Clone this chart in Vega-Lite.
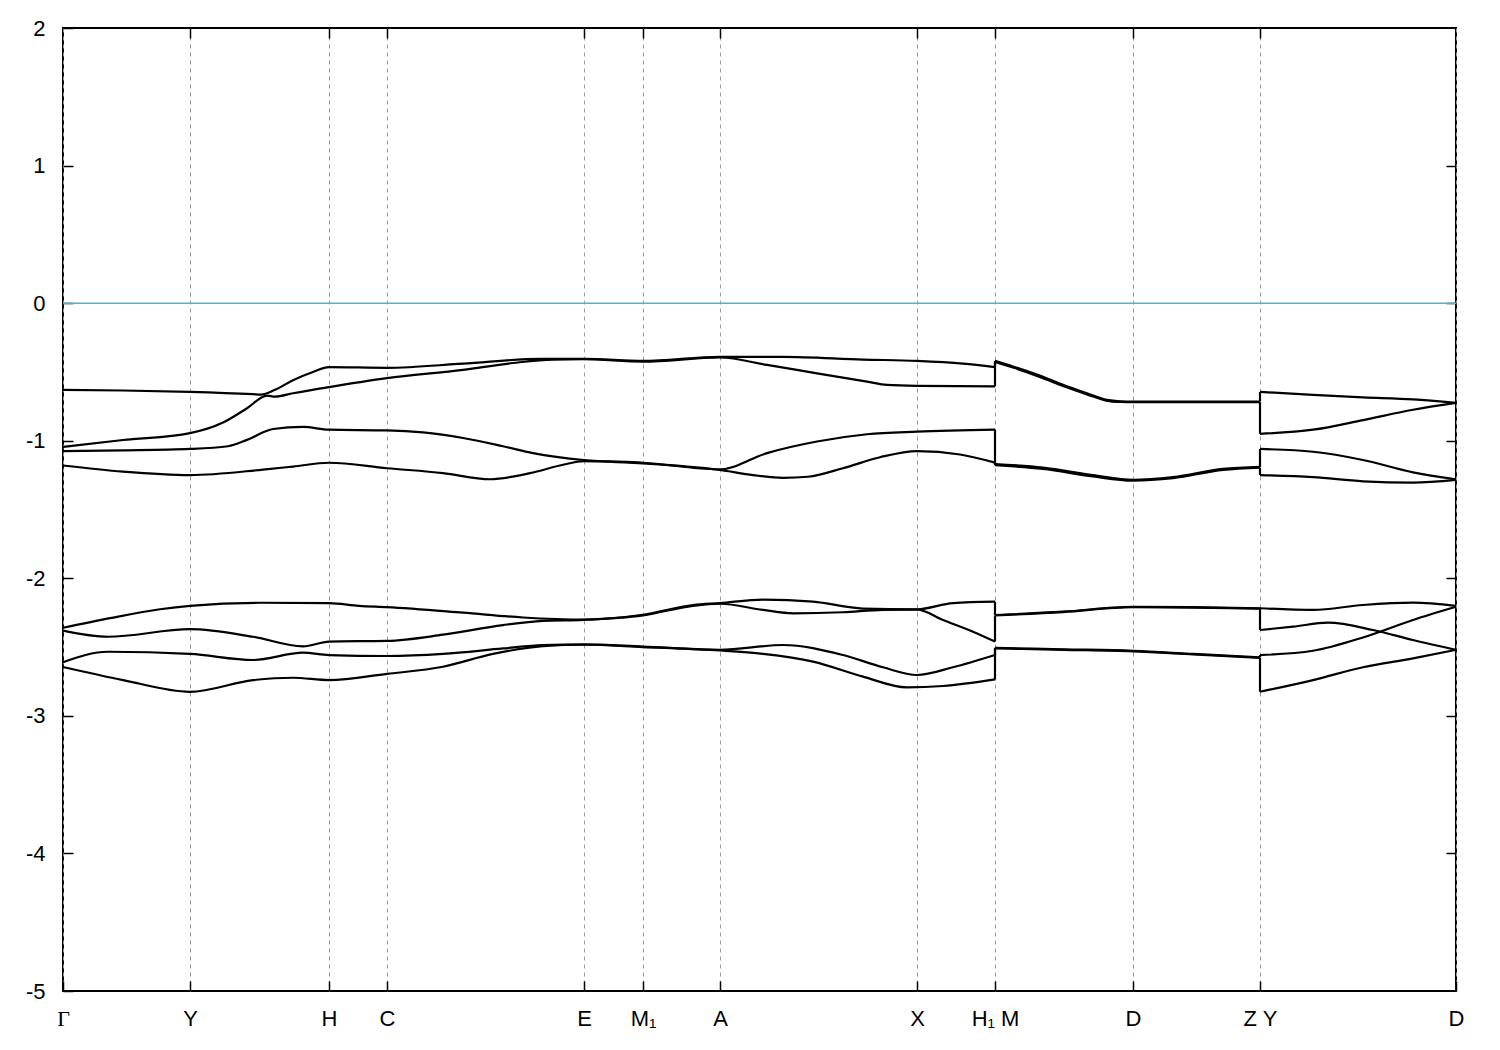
{
  "$schema": "https://vega.github.io/schema/vega-lite/v6.json",
  "width": 1393,
  "height": 963,
  "autosize": "none",
  "padding": {"left": 63, "top": 28, "right": 44, "bottom": 59},
  "background": "white",
  "config": {
    "view": {"stroke": "black", "strokeWidth": 2},
    "axis": {"labelFont": "Liberation Sans", "labelFontSize": 22, "labelColor": "black", "tickColor": "black", "tickWidth": 1.5, "domain": false, "title": null}
  },
  "datasets": {
    "bands": [
      {"b":"U1","s":"A","x":0,"e":-0.63},{"b":"U1","s":"A","x":60,"e":-0.635},{"b":"U1","s":"A","x":127,"e":-0.645},{"b":"U1","s":"A","x":190,"e":-0.662},{"b":"U1","s":"A","x":198,"e":-0.665},{"b":"U1","s":"A","x":212,"e":-0.63},{"b":"U1","s":"A","x":230,"e":-0.56},{"b":"U1","s":"A","x":250,"e":-0.5},{"b":"U1","s":"A","x":266,"e":-0.465},{"b":"U1","s":"A","x":324,"e":-0.47},{"b":"U1","s":"A","x":400,"e":-0.44},{"b":"U1","s":"A","x":477,"e":-0.405},{"b":"U1","s":"A","x":521,"e":-0.405},{"b":"U1","s":"A","x":580,"e":-0.42},{"b":"U1","s":"A","x":657,"e":-0.39},{"b":"U1","s":"A","x":720,"e":-0.39},{"b":"U1","s":"A","x":800,"e":-0.41},{"b":"U1","s":"A","x":854,"e":-0.42},{"b":"U1","s":"A","x":900,"e":-0.44},{"b":"U1","s":"A","x":932,"e":-0.465},
      {"b":"U1","s":"B","x":932,"e":-0.42},{"b":"U1","s":"B","x":950,"e":-0.46},{"b":"U1","s":"B","x":980,"e":-0.535},{"b":"U1","s":"B","x":1000,"e":-0.594},{"b":"U1","s":"B","x":1024,"e":-0.655},{"b":"U1","s":"B","x":1044,"e":-0.703},{"b":"U1","s":"B","x":1057,"e":-0.713},{"b":"U1","s":"B","x":1070,"e":-0.715},{"b":"U1","s":"B","x":1130,"e":-0.715},{"b":"U1","s":"B","x":1197,"e":-0.715},
      {"b":"U1","s":"C","x":1197,"e":-0.645},{"b":"U1","s":"C","x":1250,"e":-0.667},{"b":"U1","s":"C","x":1300,"e":-0.685},{"b":"U1","s":"C","x":1350,"e":-0.7},{"b":"U1","s":"C","x":1393,"e":-0.725},
      {"b":"U2","s":"A","x":0,"e":-1.045},{"b":"U2","s":"A","x":60,"e":-0.995},{"b":"U2","s":"A","x":127,"e":-0.945},{"b":"U2","s":"A","x":160,"e":-0.868},{"b":"U2","s":"A","x":184,"e":-0.764},{"b":"U2","s":"A","x":204,"e":-0.672},{"b":"U2","s":"A","x":212,"e":-0.68},{"b":"U2","s":"A","x":230,"e":-0.655},{"b":"U2","s":"A","x":266,"e":-0.61},{"b":"U2","s":"A","x":324,"e":-0.545},{"b":"U2","s":"A","x":400,"e":-0.485},{"b":"U2","s":"A","x":450,"e":-0.435},{"b":"U2","s":"A","x":490,"e":-0.41},{"b":"U2","s":"A","x":521,"e":-0.408},{"b":"U2","s":"A","x":580,"e":-0.425},{"b":"U2","s":"A","x":657,"e":-0.395},{"b":"U2","s":"A","x":704,"e":-0.449},{"b":"U2","s":"A","x":754,"e":-0.51},{"b":"U2","s":"A","x":804,"e":-0.57},{"b":"U2","s":"A","x":824,"e":-0.594},{"b":"U2","s":"A","x":854,"e":-0.601},{"b":"U2","s":"A","x":932,"e":-0.605},
      {"b":"U2","s":"B","x":932,"e":-0.428},{"b":"U2","s":"B","x":950,"e":-0.468},{"b":"U2","s":"B","x":980,"e":-0.545},{"b":"U2","s":"B","x":1000,"e":-0.602},{"b":"U2","s":"B","x":1024,"e":-0.663},{"b":"U2","s":"B","x":1044,"e":-0.71},{"b":"U2","s":"B","x":1057,"e":-0.718},{"b":"U2","s":"B","x":1070,"e":-0.72},{"b":"U2","s":"B","x":1130,"e":-0.72},{"b":"U2","s":"B","x":1197,"e":-0.72},
      {"b":"U2","s":"C","x":1197,"e":-0.95},{"b":"U2","s":"C","x":1250,"e":-0.92},{"b":"U2","s":"C","x":1300,"e":-0.85},{"b":"U2","s":"C","x":1350,"e":-0.775},{"b":"U2","s":"C","x":1393,"e":-0.725},
      {"b":"U3","s":"A","x":0,"e":-1.075},{"b":"U3","s":"A","x":60,"e":-1.07},{"b":"U3","s":"A","x":127,"e":-1.06},{"b":"U3","s":"A","x":165,"e":-1.04},{"b":"U3","s":"A","x":184,"e":-0.994},{"b":"U3","s":"A","x":210,"e":-0.915},{"b":"U3","s":"A","x":240,"e":-0.9},{"b":"U3","s":"A","x":266,"e":-0.92},{"b":"U3","s":"A","x":324,"e":-0.925},{"b":"U3","s":"A","x":360,"e":-0.94},{"b":"U3","s":"A","x":400,"e":-0.98},{"b":"U3","s":"A","x":440,"e":-1.04},{"b":"U3","s":"A","x":470,"e":-1.09},{"b":"U3","s":"A","x":521,"e":-1.14},{"b":"U3","s":"A","x":580,"e":-1.16},{"b":"U3","s":"A","x":657,"e":-1.208},{"b":"U3","s":"A","x":704,"e":-1.09},{"b":"U3","s":"A","x":754,"e":-1.006},{"b":"U3","s":"A","x":804,"e":-0.953},{"b":"U3","s":"A","x":854,"e":-0.934},{"b":"U3","s":"A","x":932,"e":-0.92},
      {"b":"U3","s":"B","x":932,"e":-1.17},{"b":"U3","s":"B","x":980,"e":-1.195},{"b":"U3","s":"B","x":1030,"e":-1.25},{"b":"U3","s":"B","x":1070,"e":-1.285},{"b":"U3","s":"B","x":1110,"e":-1.265},{"b":"U3","s":"B","x":1160,"e":-1.205},{"b":"U3","s":"B","x":1197,"e":-1.19},
      {"b":"U3","s":"C","x":1197,"e":-1.06},{"b":"U3","s":"C","x":1250,"e":-1.08},{"b":"U3","s":"C","x":1300,"e":-1.14},{"b":"U3","s":"C","x":1350,"e":-1.23},{"b":"U3","s":"C","x":1393,"e":-1.28},
      {"b":"U4","s":"A","x":0,"e":-1.18},{"b":"U4","s":"A","x":60,"e":-1.225},{"b":"U4","s":"A","x":127,"e":-1.25},{"b":"U4","s":"A","x":200,"e":-1.21},{"b":"U4","s":"A","x":230,"e":-1.188},{"b":"U4","s":"A","x":266,"e":-1.16},{"b":"U4","s":"A","x":324,"e":-1.2},{"b":"U4","s":"A","x":380,"e":-1.235},{"b":"U4","s":"A","x":427,"e":-1.28},{"b":"U4","s":"A","x":467,"e":-1.236},{"b":"U4","s":"A","x":500,"e":-1.175},{"b":"U4","s":"A","x":521,"e":-1.148},{"b":"U4","s":"A","x":580,"e":-1.165},{"b":"U4","s":"A","x":657,"e":-1.213},{"b":"U4","s":"A","x":690,"e":-1.25},{"b":"U4","s":"A","x":720,"e":-1.27},{"b":"U4","s":"A","x":745,"e":-1.262},{"b":"U4","s":"A","x":780,"e":-1.2},{"b":"U4","s":"A","x":817,"e":-1.12},{"b":"U4","s":"A","x":854,"e":-1.075},{"b":"U4","s":"A","x":897,"e":-1.1},{"b":"U4","s":"A","x":932,"e":-1.159},
      {"b":"U4","s":"B","x":932,"e":-1.178},{"b":"U4","s":"B","x":980,"e":-1.205},{"b":"U4","s":"B","x":1030,"e":-1.26},{"b":"U4","s":"B","x":1070,"e":-1.29},{"b":"U4","s":"B","x":1110,"e":-1.272},{"b":"U4","s":"B","x":1160,"e":-1.212},{"b":"U4","s":"B","x":1197,"e":-1.195},
      {"b":"U4","s":"C","x":1197,"e":-1.25},{"b":"U4","s":"C","x":1250,"e":-1.265},{"b":"U4","s":"C","x":1300,"e":-1.295},{"b":"U4","s":"C","x":1350,"e":-1.305},{"b":"U4","s":"C","x":1393,"e":-1.285},
      {"b":"L1","s":"A","x":0,"e":-2.36},{"b":"L1","s":"A","x":47,"e":-2.29},{"b":"L1","s":"A","x":97,"e":-2.225},{"b":"L1","s":"A","x":127,"e":-2.2},{"b":"L1","s":"A","x":197,"e":-2.178},{"b":"L1","s":"A","x":266,"e":-2.18},{"b":"L1","s":"A","x":296,"e":-2.2},{"b":"L1","s":"A","x":324,"e":-2.21},{"b":"L1","s":"A","x":400,"e":-2.25},{"b":"L1","s":"A","x":460,"e":-2.285},{"b":"L1","s":"A","x":521,"e":-2.3},{"b":"L1","s":"A","x":580,"e":-2.265},{"b":"L1","s":"A","x":630,"e":-2.195},{"b":"L1","s":"A","x":657,"e":-2.18},{"b":"L1","s":"A","x":700,"e":-2.155},{"b":"L1","s":"A","x":750,"e":-2.17},{"b":"L1","s":"A","x":800,"e":-2.22},{"b":"L1","s":"A","x":854,"e":-2.225},{"b":"L1","s":"A","x":890,"e":-2.18},{"b":"L1","s":"A","x":932,"e":-2.17},
      {"b":"L1","s":"B","x":932,"e":-2.267},{"b":"L1","s":"B","x":1000,"e":-2.243},{"b":"L1","s":"B","x":1070,"e":-2.207},{"b":"L1","s":"B","x":1130,"e":-2.21},{"b":"L1","s":"B","x":1197,"e":-2.218},
      {"b":"L1","s":"C","x":1197,"e":-2.218},{"b":"L1","s":"C","x":1250,"e":-2.23},{"b":"L1","s":"C","x":1300,"e":-2.194},{"b":"L1","s":"C","x":1350,"e":-2.177},{"b":"L1","s":"C","x":1393,"e":-2.2},
      {"b":"L2","s":"A","x":0,"e":-2.38},{"b":"L2","s":"A","x":45,"e":-2.425},{"b":"L2","s":"A","x":127,"e":-2.37},{"b":"L2","s":"A","x":190,"e":-2.425},{"b":"L2","s":"A","x":240,"e":-2.495},{"b":"L2","s":"A","x":266,"e":-2.46},{"b":"L2","s":"A","x":324,"e":-2.455},{"b":"L2","s":"A","x":380,"e":-2.41},{"b":"L2","s":"A","x":440,"e":-2.34},{"b":"L2","s":"A","x":480,"e":-2.31},{"b":"L2","s":"A","x":521,"e":-2.303},{"b":"L2","s":"A","x":580,"e":-2.27},{"b":"L2","s":"A","x":630,"e":-2.2},{"b":"L2","s":"A","x":657,"e":-2.185},{"b":"L2","s":"A","x":700,"e":-2.23},{"b":"L2","s":"A","x":730,"e":-2.255},{"b":"L2","s":"A","x":780,"e":-2.247},{"b":"L2","s":"A","x":820,"e":-2.23},{"b":"L2","s":"A","x":854,"e":-2.228},{"b":"L2","s":"A","x":880,"e":-2.303},{"b":"L2","s":"A","x":910,"e":-2.388},{"b":"L2","s":"A","x":932,"e":-2.46},
      {"b":"L2","s":"B","x":932,"e":-2.27},{"b":"L2","s":"B","x":1000,"e":-2.246},{"b":"L2","s":"B","x":1070,"e":-2.21},{"b":"L2","s":"B","x":1130,"e":-2.213},{"b":"L2","s":"B","x":1197,"e":-2.221},
      {"b":"L2","s":"C","x":1197,"e":-2.376},{"b":"L2","s":"C","x":1230,"e":-2.352},{"b":"L2","s":"C","x":1265,"e":-2.323},{"b":"L2","s":"C","x":1310,"e":-2.376},{"b":"L2","s":"C","x":1350,"e":-2.449},{"b":"L2","s":"C","x":1393,"e":-2.52},
      {"b":"L3","s":"A","x":0,"e":-2.61},{"b":"L3","s":"A","x":45,"e":-2.534},{"b":"L3","s":"A","x":127,"e":-2.55},{"b":"L3","s":"A","x":190,"e":-2.594},{"b":"L3","s":"A","x":240,"e":-2.541},{"b":"L3","s":"A","x":266,"e":-2.558},{"b":"L3","s":"A","x":324,"e":-2.565},{"b":"L3","s":"A","x":380,"e":-2.55},{"b":"L3","s":"A","x":440,"e":-2.51},{"b":"L3","s":"A","x":480,"e":-2.485},{"b":"L3","s":"A","x":521,"e":-2.48},{"b":"L3","s":"A","x":580,"e":-2.497},{"b":"L3","s":"A","x":657,"e":-2.52},{"b":"L3","s":"A","x":720,"e":-2.485},{"b":"L3","s":"A","x":780,"e":-2.558},{"b":"L3","s":"A","x":820,"e":-2.647},{"b":"L3","s":"A","x":854,"e":-2.703},{"b":"L3","s":"A","x":890,"e":-2.647},{"b":"L3","s":"A","x":932,"e":-2.558},
      {"b":"L3","s":"B","x":932,"e":-2.505},{"b":"L3","s":"B","x":1000,"e":-2.516},{"b":"L3","s":"B","x":1070,"e":-2.527},{"b":"L3","s":"B","x":1130,"e":-2.55},{"b":"L3","s":"B","x":1197,"e":-2.575},
      {"b":"L3","s":"C","x":1197,"e":-2.558},{"b":"L3","s":"C","x":1250,"e":-2.527},{"b":"L3","s":"C","x":1300,"e":-2.43},{"b":"L3","s":"C","x":1350,"e":-2.303},{"b":"L3","s":"C","x":1393,"e":-2.207},
      {"b":"L4","s":"A","x":0,"e":-2.645},{"b":"L4","s":"A","x":60,"e":-2.74},{"b":"L4","s":"A","x":127,"e":-2.825},{"b":"L4","s":"A","x":190,"e":-2.74},{"b":"L4","s":"A","x":230,"e":-2.723},{"b":"L4","s":"A","x":266,"e":-2.74},{"b":"L4","s":"A","x":324,"e":-2.695},{"b":"L4","s":"A","x":380,"e":-2.643},{"b":"L4","s":"A","x":430,"e":-2.55},{"b":"L4","s":"A","x":480,"e":-2.493},{"b":"L4","s":"A","x":521,"e":-2.483},{"b":"L4","s":"A","x":580,"e":-2.5},{"b":"L4","s":"A","x":657,"e":-2.525},{"b":"L4","s":"A","x":700,"e":-2.55},{"b":"L4","s":"A","x":750,"e":-2.606},{"b":"L4","s":"A","x":800,"e":-2.715},{"b":"L4","s":"A","x":844,"e":-2.793},{"b":"L4","s":"A","x":880,"e":-2.783},{"b":"L4","s":"A","x":932,"e":-2.735},
      {"b":"L4","s":"B","x":932,"e":-2.51},{"b":"L4","s":"B","x":1000,"e":-2.52},{"b":"L4","s":"B","x":1070,"e":-2.531},{"b":"L4","s":"B","x":1130,"e":-2.553},{"b":"L4","s":"B","x":1197,"e":-2.578},
      {"b":"L4","s":"C","x":1197,"e":-2.825},{"b":"L4","s":"C","x":1250,"e":-2.74},{"b":"L4","s":"C","x":1300,"e":-2.647},{"b":"L4","s":"C","x":1350,"e":-2.582},{"b":"L4","s":"C","x":1393,"e":-2.52}
    ],
    "jumps": [
      {"x":932,"e1":-0.465,"e2":-0.42},{"x":932,"e1":-0.605,"e2":-0.428},{"x":932,"e1":-0.92,"e2":-1.17},{"x":932,"e1":-1.159,"e2":-1.178},
      {"x":932,"e1":-2.17,"e2":-2.267},{"x":932,"e1":-2.46,"e2":-2.27},{"x":932,"e1":-2.558,"e2":-2.505},{"x":932,"e1":-2.735,"e2":-2.51},
      {"x":1197,"e1":-0.715,"e2":-0.645},{"x":1197,"e1":-0.72,"e2":-0.95},{"x":1197,"e1":-1.19,"e2":-1.06},{"x":1197,"e1":-1.195,"e2":-1.25},
      {"x":1197,"e1":-2.221,"e2":-2.376},{"x":1197,"e1":-2.575,"e2":-2.558},{"x":1197,"e1":-2.578,"e2":-2.825}
    ]
  },
  "resolve": {"axis": {"x": "independent", "y": "independent"}},
  "layer": [
    {
      "data": {"name": "bands"},
      "mark": {"type": "line", "interpolate": "monotone", "color": "black", "strokeWidth": 2.2},
      "encoding": {
        "x": {"field": "x", "type": "quantitative", "scale": {"domain": [0, 1393], "nice": false, "zero": false},
          "axis": {"orient": "bottom", "values": [0,127,266,324,521,580,657,854,932,1070,1197,1393],
            "labelExpr": "['Γ','Y','H','C','E','M₁','A','X','H₁ M','D','Z Y','D'][indexof([0,127,266,324,521,580,657,854,932,1070,1197,1393], datum.value)]",
            "labelFont": {"condition": {"test": "datum.value == 0", "value": "Liberation Serif"}, "value": "Liberation Sans"},
            "grid": true, "gridDash": [4, 4], "gridColor": "#9a9a9a", "gridWidth": 1,
            "tickSize": -10, "labelPadding": 27, "labelFlush": false, "labelBound": false, "labelOverlap": false}},
        "y": {"field": "e", "type": "quantitative", "scale": {"domain": [-5, 2], "nice": false, "zero": false},
          "axis": {"orient": "left", "values": [2,1,0,-1,-2,-3,-4,-5],
            "labelExpr": "datum.value < 0 ? '-' + abs(datum.value) : '' + datum.value",
            "grid": false, "tickSize": -10, "labelPadding": 28, "labelOverlap": false, "labelFlush": false, "labelBound": false}},
        "detail": [{"field": "b"}, {"field": "s"}]
      }
    },
    {
      "data": {"name": "jumps"},
      "mark": {"type": "rule", "color": "black", "strokeWidth": 2.2},
      "encoding": {
        "x": {"field": "x", "type": "quantitative", "axis": null},
        "y": {"field": "e1", "type": "quantitative", "axis": null},
        "y2": {"field": "e2"}
      }
    },
    {
      "data": {"values": [{}]},
      "mark": {"type": "rule", "color": "#4faee3", "strokeWidth": 1.5},
      "encoding": {
        "x": {"datum": 0, "type": "quantitative",
          "axis": {"orient": "top", "values": [127,266,324,521,580,657,854,932,1070,1197], "labels": false, "grid": false, "tickSize": -10}},
        "x2": {"datum": 1393},
        "y": {"datum": 0, "type": "quantitative",
          "axis": {"orient": "right", "values": [1,0,-1,-2,-3,-4], "labels": false, "grid": false, "tickSize": -10}}
      }
    }
  ]
}
